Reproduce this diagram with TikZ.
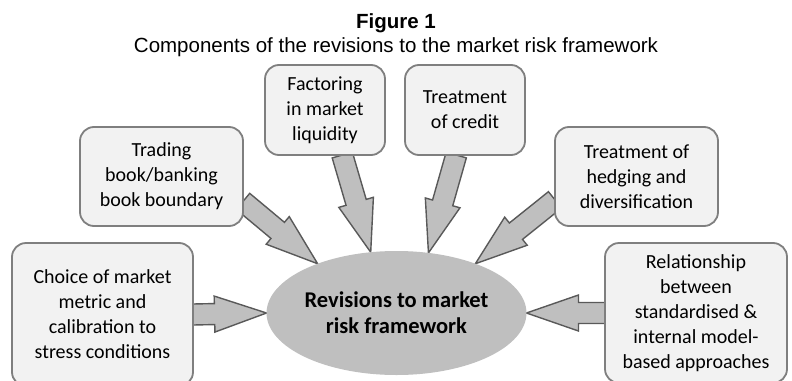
\documentclass[tikz,border=0pt]{standalone}
\usepackage{fontspec}
\setmainfont{Carlito}
\newfontfamily\titlefont{Liberation Sans}
\usetikzlibrary{calc,shapes.geometric,backgrounds}

\definecolor{boxfill}{HTML}{F2F2F2}
\definecolor{boxline}{HTML}{7F7F7F}
\definecolor{arrowfill}{HTML}{BFBFBF}
\definecolor{arrowline}{HTML}{595959}
\definecolor{corefill}{HTML}{BFBFBF}

\begin{document}
\begin{tikzpicture}[x=1pt,y=-1pt]
        % Styles
        \tikzstyle{block} = [rectangle, draw=boxline, fill=boxfill, line width=1.8pt,
                             rounded corners=14pt, inner sep=0pt, outer sep=0pt,
                             align=center, font=\fontsize{20}{25}\selectfont]
        \tikzstyle{core} = [ellipse, fill=corefill, inner sep=0pt, outer sep=0pt,
                            minimum width=225pt, minimum height=124pt, align=center,
                            font=\fontsize{22.5}{26}\selectfont\bfseries]
        \tikzstyle{fatarrow} = [draw=arrowline, fill=arrowfill, line width=1.4pt,
            to path={
              ($(\tikztostart)!10.5pt!90:(\tikztotarget)$)
              -- ($(\tikztotarget)!52pt!(\tikztostart)!10.5pt!-90:(\tikztostart)$)
              -- ($(\tikztotarget)!52pt!(\tikztostart)!18pt!-90:(\tikztostart)$)
              -- (\tikztotarget)
              -- ($(\tikztotarget)!52pt!(\tikztostart)!18pt!90:(\tikztostart)$)
              -- ($(\tikztotarget)!52pt!(\tikztostart)!10.5pt!90:(\tikztostart)$)
              -- ($(\tikztostart)!10.5pt!-90:(\tikztotarget)$) -- cycle}]

        \useasboundingbox (0,0) rectangle (792,380);

        % ==== Title ====
        \node[font=\titlefont\fontsize{20.5}{24}\selectfont\bfseries] (title) at (396,23) {Figure 1};
        \node[font=\titlefont\fontsize{20.5}{24}\selectfont] (subtitle) at (396,47)
             {Components of the revisions to the market risk framework};

        % ==== Nodes ====
        \node[core] (core) at (396.5,313) {Revisions to market\\risk framework};
        \node[block, minimum width=181pt, minimum height=143pt] (choice)   at (102.5,314.5)
             {Choice of market\\metric and\\calibration to\\stress conditions};
        \node[block, minimum width=163pt, minimum height=99pt]  (trading)  at (161.5,176.5)
             {Trading\\book/banking\\book boundary};
        \node[block, minimum width=120pt, minimum height=90pt]  (liquidity) at (325,110)
             {Factoring\\in market\\liquidity};
        \node[block, minimum width=120pt, minimum height=90pt]  (credit)   at (465,110)
             {Treatment\\of credit};
        \node[block, minimum width=163pt, minimum height=99pt]  (hedging)  at (636.5,176.5)
             {Treatment of\\hedging and\\diversification};
        \node[block, minimum width=182pt, minimum height=140pt] (relation) at (696,313)
             {Relationship\\between\\standardised \&\\internal model-\\based approaches};

        % ==== Arrows (behind the boxes) ====
        \begin{scope}[on background layer]
        \draw[fatarrow] (choice.east) to (core.west);
        \draw[fatarrow] (trading.-17) to (core.148);
        \draw[fatarrow] (liquidity.-69) to (core.113);
        \draw[fatarrow] (credit.-101) to (core.62);
        \draw[fatarrow] (hedging.-164) to (core.32);
        \draw[fatarrow] (relation.west) to (core.east);
        \end{scope}
    \end{tikzpicture}
\end{document}
